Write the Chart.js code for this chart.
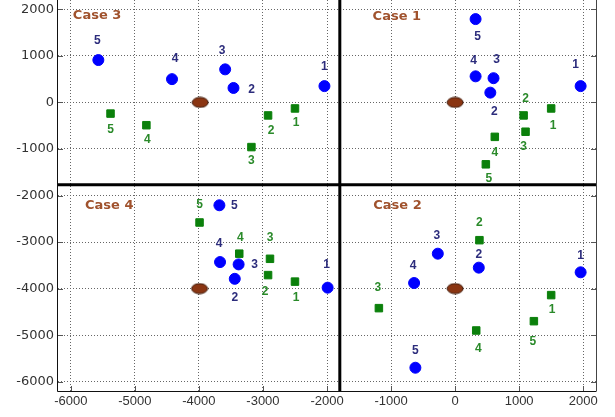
<!DOCTYPE html>
<html>
<head>
<meta charset="utf-8">
<script src="https://cdn.jsdelivr.net/npm/chart.js@4"></script>
<style>
  body { margin: 0; background: #fff; }
  #wrap { width: 615px; height: 417px; }
</style>
</head>
<body>
<div id="wrap"><canvas id="chart" width="615" height="417"></canvas></div>
<script>
// point order in every array: Case 1 pts 1-5, Case 2 pts 1-5, Case 3 pts 1-5, Case 4 pts 1-5
const pointNums = ['1', '2', '3', '4', '5'];

const blueX = [1960, 550, 600, 320, 320,
               1960, 370, -270, -640, -620,
               -2040, -3460, -3590, -4420, -5570,
               -1990, -3440, -3380, -3670, -3680];
const blueY = [350, 210, 520, 560, 1790,
               -3650, -3550, -3250, -3880, -5700,
               350, 310, 710, 500, 910,
               -3980, -3790, -3480, -3430, -2210];

const greenX = [1500, 1070, 1100, 620, 480,
                1500, 380, -1190, 330, 1230,
                -2500, -2920, -3180, -4820, -5380,
                -2500, -2920, -2890, -3370, -3990];
const greenY = [-130, -280, -630, -740, -1330,
                -4140, -2960, -4420, -4900, -4700,
                -130, -280, -960, -490, -240,
                -3850, -3710, -3360, -3250, -2580];

// brown reference marks, one per case
const centerX = [0, 0, -3980, -3990];
const centerY = [0, -4000, 0, -4000];

const caseNames = ['Case 1', 'Case 2', 'Case 3', 'Case 4'];
const caseLabelX = [-910, -900, -5590, -5400];
const caseLabelY = [1840, -2220, 1860, -2215];

// the two thick dividing lines
const divX = -1800;
const divY = -1770;

const xTicks = [-6000, -5000, -4000, -3000, -2000, -1000, 0, 1000, 2000];
const yTicks = [-6000, -5000, -4000, -3000, -2000, -1000, 0, 1000, 2000];
const xMin = -6200, xMax = 2200, yMin = -6200, yMax = 2200;

// label offsets in pixels from each marker
const blueOff = [[-5, -21], [4, 19], [3, -19], [-2, -16], [2, 18],
                 [0, -17], [0, -13], [-1, -18], [-1, -17], [0, -17],
                 [0, -19], [18, 2], [-3, -19], [3, -20], [-1, -19],
                 [-1, -23], [0, 19], [16, 0], [-1, -18], [15, 0]];
const greenOff = [[2, 17], [2, -17], [-2, 15], [0, 16], [3, 14],
                  [1, 15], [0, -17], [-1, -20], [2, 18], [-1, 21],
                  [1, 14], [3, 15], [0, 14], [1, 14], [0, 16],
                  [1, 16], [-3, 17], [0, -21], [1, -16], [0, -18]];

function pts(xs, ys) {
  return xs.map((x, i) => ({ x: x, y: ys[i] }));
}

// ellipse marker
const ell = document.createElement('canvas');
ell.width = 18; ell.height = 12;
let ec = ell.getContext('2d');
ec.beginPath();
ec.ellipse(9, 6, 8, 5, 0, 0, Math.PI * 2);
ec.fillStyle = '#8a3512';
ec.fill();
ec.lineWidth = 1;
ec.strokeStyle = '#3c1606';
ec.stroke();

const labelPlugin = {
  id: 'labels',
  afterDatasetsDraw(chart) {
    const ctx = chart.ctx;
    ctx.save();
    ctx.font = 'bold 12px "Liberation Sans", Arial, sans-serif';
    ctx.textAlign = 'center';
    ctx.textBaseline = 'middle';
    [[0, blueOff, '#2c2c7c'], [1, greenOff, '#2a8a2a']].forEach(function (s) {
      let meta = chart.getDatasetMeta(s[0]);
      ctx.fillStyle = s[2];
      meta.data.forEach(function (p, k) {
        ctx.fillText(pointNums[k % 5], p.x + s[1][k][0], p.y + s[1][k][1]);
      });
    });
    let xs = chart.scales.x, ys = chart.scales.y;
    ctx.font = 'bold 13px "DejaVu Sans", sans-serif';
    ctx.fillStyle = '#a0522d';
    caseNames.forEach(function (name, i) {
      ctx.fillText(name, xs.getPixelForValue(caseLabelX[i]), ys.getPixelForValue(caseLabelY[i]));
    });
    ctx.restore();
  },
  afterDraw(chart) {
    const ctx = chart.ctx;
    const a = chart.chartArea;
    let xs = chart.scales.x, ys = chart.scales.y;
    ctx.save();
    ctx.lineWidth = 1;
    ctx.strokeStyle = '#555';
    // inward tick marks
    xs.ticks.forEach(function (t) {
      let px = Math.round(xs.getPixelForValue(t.value)) + 0.5;
      ctx.beginPath();
      ctx.moveTo(px, a.bottom); ctx.lineTo(px, a.bottom - 5);
      ctx.stroke();
    });
    ys.ticks.forEach(function (t) {
      let py = Math.round(ys.getPixelForValue(t.value)) + 0.5;
      ctx.beginPath();
      ctx.moveTo(a.left, py); ctx.lineTo(a.left + 5, py);
      ctx.moveTo(a.right, py); ctx.lineTo(a.right - 5, py);
      ctx.stroke();
    });
    // frame
    ctx.strokeStyle = '#444';
    ctx.beginPath();
    ctx.moveTo(a.right + 0.5, a.top);
    ctx.lineTo(a.right + 0.5, a.bottom);
    ctx.stroke();
    ctx.strokeStyle = '#111';
    ctx.beginPath();
    ctx.moveTo(a.left - 0.5, a.top);
    ctx.lineTo(a.left - 0.5, a.bottom + 0.5);
    ctx.lineTo(a.right + 0.5, a.bottom + 0.5);
    ctx.stroke();
    ctx.restore();
  }
};

new Chart(document.getElementById('chart'), {
  type: 'scatter',
  data: {
    datasets: [
      {
        label: 'blue',
        data: pts(blueX, blueY),
        pointStyle: 'circle',
        pointRadius: 5.5,
        pointBorderWidth: 1,
        backgroundColor: '#0000ff',
        borderColor: '#0000ff',
        order: 1
      },
      {
        label: 'green',
        data: pts(greenX, greenY),
        pointStyle: 'rect',
        pointRadius: 5.3,
        pointBorderWidth: 1,
        backgroundColor: '#0b800b',
        borderColor: '#0b800b',
        order: 2
      },
      {
        label: 'center',
        data: pts(centerX, centerY),
        pointStyle: ell,
        pointRadius: 8,
        order: 3
      },
      {
        type: 'line',
        label: 'vdiv',
        data: [{ x: divX, y: yMax }, { x: divX, y: yMin }],
        borderColor: '#000',
        borderWidth: 3,
        pointRadius: 0,
        order: 4
      },
      {
        type: 'line',
        label: 'hdiv',
        data: [{ x: xMin, y: divY }, { x: xMax, y: divY }],
        borderColor: '#000',
        borderWidth: 3,
        pointRadius: 0,
        order: 5
      }
    ]
  },
  options: {
    responsive: false,
    animation: false,
    layout: { autoPadding: false, padding: { top: 0, right: 19, bottom: 0, left: 0 } },
    plugins: {
      legend: { display: false },
      tooltip: { enabled: false }
    },
    scales: {
      x: {
        type: 'linear',
        min: xMin,
        max: xMax,
        afterBuildTicks: function (axis) { axis.ticks = xTicks.map(v => ({ value: v })); },
        afterFit: function (s) {
          s.height = 26;
          s.paddingLeft = 0; s.paddingRight = 0;
        },
        grid: { color: '#666', lineWidth: 1, drawTicks: false },
        border: { display: false, dash: [1, 2] },
        ticks: {
          padding: 3,
          color: '#333',
          callback: v => String(v),
          font: { family: '"Liberation Sans", Arial, sans-serif', size: 13 }
        }
      },
      y: {
        type: 'linear',
        min: yMin,
        max: yMax,
        afterBuildTicks: function (axis) { axis.ticks = yTicks.map(v => ({ value: v })); },
        afterFit: function (s) {
          s.width = 58;
          s.paddingTop = 0; s.paddingBottom = 0;
        },
        grid: { color: '#666', lineWidth: 1, drawTicks: false },
        border: { display: false, dash: [1, 2] },
        ticks: {
          padding: 4,
          color: '#333',
          callback: v => String(v),
          font: { family: '"DejaVu Sans", sans-serif', size: 13 }
        }
      }
    }
  },
  plugins: [labelPlugin]
});
</script>
</body>
</html>
